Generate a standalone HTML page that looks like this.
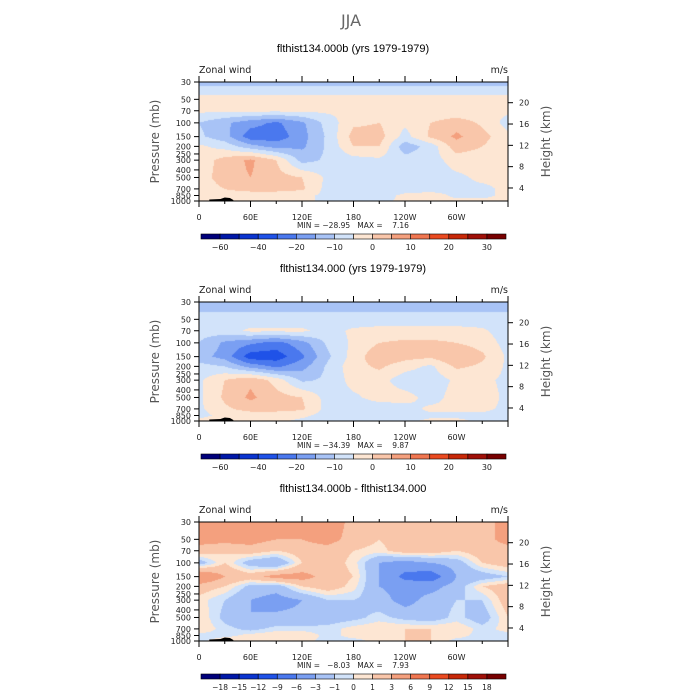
<!DOCTYPE html>
<html><head><meta charset="utf-8"><style>
body{margin:0;background:#fff;width:700px;height:700px;overflow:hidden;position:relative;font-family:"Liberation Sans",sans-serif}
canvas{position:absolute;left:0;top:0}
svg{position:absolute;left:0;top:0}
text{white-space:pre}
</style></head><body>
<canvas id="cv" width="700" height="700"></canvas>
<svg id="sv" width="700" height="700"></svg>
<script>
const lons=[0,30,60,90,120,150,180,210,240,270,300,330,360];
const levels=[30,50,70,100,150,200,300,500,700,850,1000];
const field1=[
[-7,-7,-7,-7,-7,-7,-7,-7,-7,-7,-7,-7,-7],
[2,2,2,2,2,2,2,2,2,2,2,2,2],
[1,1,1,1,1,1,1,1,1,1,1,1,1],
[-5,-9,-13,-16,-11,-3,4,5,1,5,8,4,-2],
[-4,-8,-18,-18,-12,-4,7,7,-2,6,11,7,1],
[1,-2,-8,-12,-11,-4,5,5,-8,-3,8,5,1],
[2,7,11,5,-7,-4,-2,-1,-3,-2,2,2,1],
[2,8,10,7,5,-1,-3,-3,-3,-2,-1,1,1],
[2,5,7,7,6,-2,-3,-3,-2,-2,-1,-1,1],
[1,3,2,2,1,-1,-2,-2,1,2,-1,-1,1],
[3,4,2,2,1,-1,-1,-1,1,1,1,1,1]];
const field2=[
[-8,-8,-8,-8,-8,-8,-8,-8,-8,-8,-8,-8,-8],
[-3,-3,-3,-3,-3,-3,-3,-3,-3,-3,-3,-3,-3],
[-3,-2,1,1,1,-2,1,2,2,2,2,1,-3],
[-5,-11,-14,-17,-12,-4,1,5,6,6,5,3,-2],
[-8,-12,-23,-23,-16,-6,2,9,7,6,10,6,-1],
[-3,-5,-12,-16,-12,-4,3,6,2,-1,6,4,-1],
[-1,5,9,3,-6,-4,2,2,-3,-3,1,1,-1],
[-1,6,11,7,5,-2,-1,2,2,-2,2,2,-1],
[-1,4,7,7,6,-2,-3,-3,-2,1,1,1,-1],
[-2,2,2,2,1,-2,-3,-3,-2,-1,-1,-1,-2],
[2,3,1,1,-1,-2,-2,-2,-1,1,1,-1,-1]];
const field3=[
[4,4,4,4,5,5,2,1,2,2,2,2,4],
[4,4,4,3,3,4,2,1,2,1,3,2,4],
[2,1,2,1,2,2,1,0.5,2,2,1,2,2],
[-2,1,-2,-3,1,2,0.5,-3,-4,-3,-2,1,2],
[6,3,2,4,4,2,1,-3,-7,-8,-3,-2,-1],
[2,1,-1.5,-2,1,2,0.5,-3,-4,-4,-2,1,2],
[0.5,-1,-3,-4,-3,-1,-1,-2,-4,-2,-1,-1,2],
[1,-1.5,-3,-2.5,-2.5,-2,-1.5,-0.5,-1.5,-2,-0.5,-2,1],
[1,-0.5,-1.5,-0.5,-0.5,-0.5,0.5,1,1,1,1,-0.5,0.5],
[-0.5,-0.5,0.5,1,1,-0.5,0.5,0.5,1,1,0.5,-0.5,-0.5],
[-0.5,1,1,1,0.5,-0.5,-0.5,0.5,1,1,-0.5,-0.5,-0.5]];
const levs12=[-50,-40,-30,-20,-15,-10,-5,0,5,10,15,20,25,30,35];
const levs3=[-18,-15,-12,-9,-6,-3,-1,0,1,3,6,9,12,15,18];
const labels12=["-60","-40","-20","-10","0","10","20","30"];
const labelIdx12=[0,2,4,6,8,10,12,14];
const colors=["#00007a","#0018a8","#0a34d0","#1f52e8","#4a78ee","#7a9ff2","#a8c3f6","#d2e3fa","#fde6d3","#f9c6aa","#f4a07e","#f07650","#ea4a20","#c82808","#a01008","#780000"];
const titles=["flthist134.000b (yrs 1979-1979)","flthist134.000 (yrs 1979-1979)","flthist134.000b - flthist134.000"];
const minmax=["MIN = \u221228.95   MAX =    7.16","MIN = \u221234.39   MAX =    9.87","MIN =   \u22128.03   MAX =    7.93"];
const panels=[{top:82,f:field1,l:levs12,t:48,cb:234},{top:302,f:field2,l:levs12,t:268,cb:454},{top:522,f:field3,l:levs3,t:488,cb:674}];
const X0=199,W=309,H=119;
const ctx=document.getElementById('cv').getContext('2d');
const sv=document.getElementById('sv');
const NS='http://www.w3.org/2000/svg';
function mk(tag,attrs,parent){const e=document.createElementNS(NS,tag);for(const k in attrs)e.setAttribute(k,attrs[k]);(parent||sv).appendChild(e);return e;}
function txt(s,x,y,size,anchor,extra,parent){const t=mk('text',Object.assign({x:x,y:y,'font-size':size,'text-anchor':anchor||'middle','font-family':'"Liberation Sans",sans-serif',fill:'#000'},extra||{}),parent);t.textContent=s;return t;}
const L0=Math.log(30),L1=Math.log(1000);
function yP(top,p){return top+(Math.log(p)-L0)/(L1-L0)*H;}
function xL(lon){return X0+lon/360*W;}
function yH(top,h){return top+(127.3-5.33*h)/119*H;}
function sample(f,lon,p){
 let i=Math.min(11,Math.floor(lon/30));let fx=(lon-lons[i])/30;
 const lp=Math.log(p);let j=0;while(j<9&&Math.log(levels[j+1])<lp)j++;
 const fy=(lp-Math.log(levels[j]))/(Math.log(levels[j+1])-Math.log(levels[j]));
 const a=f[j][i]*(1-fx)+f[j][i+1]*fx, b=f[j+1][i]*(1-fx)+f[j+1][i+1]*fx;
 return a*(1-fy)+b*fy;}
function colorFor(v,l){let k=0;while(k<l.length&&v>=l[k])k++;return colors[k];}
const DV={'font-family':'"DejaVu Sans",sans-serif',fill:'#222'};
panels.forEach((P,pi)=>{
 for(let py=0;py<H;py++){
  const p=Math.exp(L0+(py+0.5)/H*(L1-L0));
  for(let px=0;px<W;px++){
   const lon=(px+0.5)/W*360;
   ctx.fillStyle=colorFor(sample(P.f,lon,p),P.l);
   ctx.fillRect(X0+px,P.top+py,1,1);
  }}
 const g=mk('g',{});
 
 
 const tr=mk('path',{d:`M${xL(12)},${P.top+H} L${xL(12)},${P.top+H-1.5} L${xL(25)},${P.top+H-2} L${xL(30)},${P.top+H-3.5} L${xL(36)},${P.top+H-3} L${xL(40)},${P.top+H-1} L${xL(40)},${P.top+H}Z`,fill:'#000'},g);
 
 
 mk('rect',{x:X0,y:P.top,width:W,height:H,fill:'none',stroke:'#000','stroke-width':1},g);
 const tl=txt(titles[pi],353,P.t+4,11,'middle',{},g);
 
 
 txt('Zonal wind',X0,P.top-9,9.5,'start',DV,g);
 txt('m/s',W+X0,P.top-9,9.5,'end',DV,g);
 for(let lon=0;lon<=360;lon+=30){const x=xL(lon);const big=lon%60===0;
  mk('line',{x1:x,x2:x,y1:P.top,y2:P.top-(big?6:3),stroke:'#000','stroke-width':1},g);
  mk('line',{x1:x,x2:x,y1:P.top+H,y2:P.top+H+(big?6:3),stroke:'#000','stroke-width':1},g);}
 const xl=["0","60E","120E","180","120W","60W"];
 xl.forEach((s,k)=>txt(s,xL(k*60),P.top+H+19,8,'middle',DV,g));
 const pl=[30,50,70,100,150,200,250,300,400,500,700,850,1000];
 pl.forEach(p=>{const y=yP(P.top,p);mk('line',{x1:X0,x2:X0-5,y1:y,y2:y,stroke:'#000'},g);
  txt(String(p),X0-8,y+3,8,'end',DV,g);});
 [4,8,12,16,20].forEach(h=>{const y=yH(P.top,h);mk('line',{x1:X0+W,x2:X0+W+5,y1:y,y2:y,stroke:'#000'},g);
  txt(String(h),X0+W+11,y+3,8,'start',DV,g);});
 txt('Pressure (mb)',0,0,12,'middle',{transform:`translate(159,${P.top+H/2}) rotate(-90)`,fill:'#555','font-family':'"DejaVu Sans",sans-serif'},g);
 txt('Height (km)',0,0,12,'middle',{transform:`translate(550,${P.top+H/2}) rotate(-90)`,fill:'#555','font-family':'"DejaVu Sans",sans-serif'},g);
 txt(minmax[pi],353,P.top+H+27,7.5,'middle',DV,g);
 const cb=mk('g',{});
 
 
 const bw=305/16;
 colors.forEach((c,k)=>mk('rect',{x:201+k*bw,y:P.cb,width:bw,height:5,fill:c,stroke:'#000','stroke-width':0.6},cb));
 if(pi<2){labelIdx12.forEach((k,m)=>txt(labels12[m].replace('-','\u2212'),201+(k+1)*bw,P.cb+16,8,'middle',DV,cb));}
 else{levs3.forEach((v,k)=>txt(String(v).replace('-','\u2212'),201+(k+1)*bw,P.cb+16,7.5,'middle',DV,cb));}
});
const mt=txt('JJA',351,26,16,'middle',{fill:'#666','font-family':'"DejaVu Sans",sans-serif'});


</script>
</body></html>
